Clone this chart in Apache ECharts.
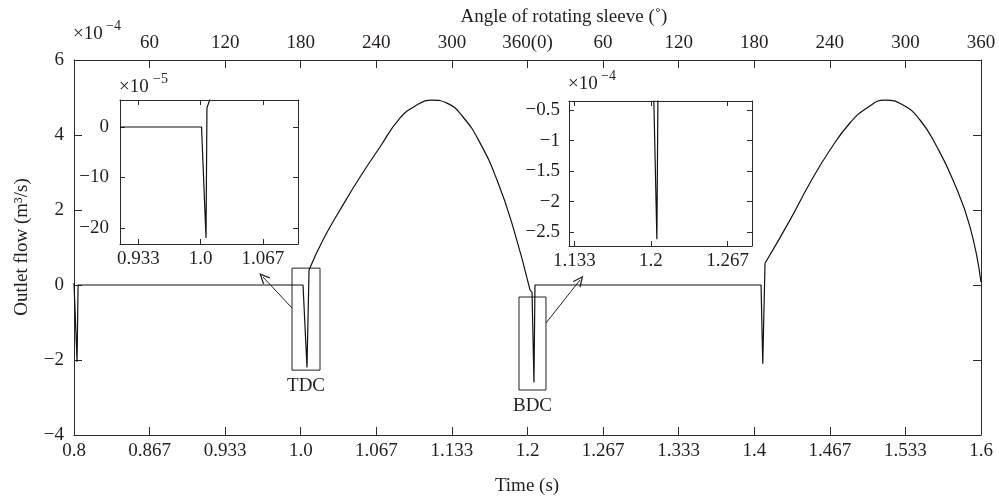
<!DOCTYPE html>
<html><head><meta charset="utf-8">
<script src="https://cdn.jsdelivr.net/npm/echarts@6/dist/echarts.min.js"></script>
<style>html,body{margin:0;padding:0;background:#fff}#c{width:999px;height:499px}</style>
</head><body><div id="c"></div>
<script>
// ---------- data ----------
const timeLabels = ['0.8','0.867','0.933','1.0','1.067','1.133','1.2','1.267','1.333','1.4','1.467','1.533','1.6'];
const angleLabels = ['','60','120','180','240','300','360(0)','60','120','180','240','300','360'];
const flowTicks = [-4,-2,0,2,4,6];

// main curve: spikes and flat parts (sharp)
const sharpTime = [0.8,0.8014,0.8027,0.8036,1.002,1.0055,1.0073,null,1.2022,1.204,1.2057,1.2066,1.406,1.4075,1.4095];
const sharpFlow = [0.05,0,-2.05,0,0,-2.2,0.4,null,-0.13,-0.2,-2.6,0,0,-2.1,0.58];
// main curve: smooth lobes
const lobeTime = [1.0073,1.0196,1.0346,1.0523,1.0699,1.0875,1.1025,1.1158,1.129,1.1431,1.1581,1.1731,1.1872,1.2022,null,
                  1.4095,1.4315,1.4491,1.4668,1.4844,1.4994,1.5153,1.5312,1.5462,1.5612,1.5753,1.5903,1.6];
const lobeFlow = [0.4,1.2,2.0,2.88,3.68,4.45,4.8,4.93,4.85,4.48,3.79,2.8,1.55,-0.13,null,
                  0.58,1.73,2.72,3.6,4.32,4.72,4.93,4.8,4.4,3.68,2.8,1.55,0.08];

// inset TDC (x10^-5)
const tdcTime = [0.9137,1.001,1.0058,1.0068,1.0098,1.0105];
const tdcFlow = [0,0,-22,3.8,5.35,6];
const tdcXTicks = [0.9333,1.0,1.0667];
const tdcXLabels = ['0.933','1.0','1.067'];
const tdcYTicks = [-20,-10,0];

// inset BDC (x10^-4)
const bdcTime = [1.2025,1.2052,1.2061];
const bdcFlow = [-0.3,-2.62,-0.3];
const bdcXTicks = [1.1333,1.2,1.2667];
const bdcXLabels = ['1.133','1.2','1.267'];
const bdcYTicks = [-2.5,-2,-1.5,-1,-0.5];

// annotation boxes (data coords) and arrows
const tdcBox = [0.9923,0.45,1.017,-2.27];
const bdcBox = [1.1925,-0.32,1.2163,-2.8];
const tdcArrow = [0.9923,-0.613,0.9667,0.213];
const bdcArrow = [1.2163,-1.013,1.2463,0.133];

// ---------- helpers ----------
const FONT = 'Liberation Serif';
const TXT = '#231f20';
const AX = '#2a2a2a';
const step = 0.8/12;
const mainX = timeLabels.map((_,i)=>0.8+i*step);
const minus = v => String(v).replace('-', '\u2212');
const pair = (xs, ys) => xs.map((x,i)=> x===null ? ['-','-'] : [x, ys[i]]);
const nearestLabel = (vals, labs) => v => { let b=0; vals.forEach((t,i)=>{ if(Math.abs(t-v)<Math.abs(vals[b]-v)) b=i; }); return labs[b]; };

function ax(o, tickVals, len, label){
  return Object.assign({type:'value', splitLine:{show:false},
    axisLine:{onZero:false,lineStyle:{color:AX,width:1}},
    axisTick:{inside:true,length:len,lineStyle:{color:AX},customValues:tickVals},
    axisLabel: label ? Object.assign({fontFamily:FONT,fontSize:19,color:TXT,customValues:tickVals}, label) : {show:false}
  }, o);
}

const option = {
  animation:false,
  backgroundColor:'#fff',
  grid:[
    {left:74,right:18,top:60,bottom:64},
    {left:120,top:100,width:178,height:144,show:true,backgroundColor:'#fff',borderWidth:0},
    {left:569,top:101,width:183,height:145,show:true,backgroundColor:'#fff',borderWidth:0}
  ],
  xAxis:[
    ax({gridIndex:0,position:'bottom',min:0.8,max:1.6}, mainX, 8, {margin:7,formatter:nearestLabel(mainX,timeLabels)}),
    ax({gridIndex:0,position:'top',min:0.8,max:1.6}, mainX, 8, {margin:7,formatter:nearestLabel(mainX,angleLabels)}),
    ax({gridIndex:1,position:'bottom',min:0.9137,max:1.1043}, tdcXTicks, 5, {margin:6,formatter:nearestLabel(tdcXTicks,tdcXLabels)}),
    ax({gridIndex:1,position:'top',min:0.9137,max:1.1043}, tdcXTicks, 5, null),
    ax({gridIndex:2,position:'bottom',min:1.1287,max:1.288}, bdcXTicks, 5, {margin:6,formatter:nearestLabel(bdcXTicks,bdcXLabels)}),
    ax({gridIndex:2,position:'top',min:1.1287,max:1.288}, bdcXTicks, 5, null)
  ],
  yAxis:[
    ax({gridIndex:0,position:'left',min:-4,max:6}, flowTicks, 8, {margin:10,formatter:minus}),
    ax({gridIndex:0,position:'right',min:-4,max:6}, flowTicks, 8, null),
    ax({gridIndex:1,position:'left',min:-23.2,max:5.35}, tdcYTicks, 5, {margin:11,formatter:minus}),
    ax({gridIndex:1,position:'right',min:-23.2,max:5.35}, tdcYTicks, 5, null),
    ax({gridIndex:2,position:'left',min:-2.73,max:-0.35}, bdcYTicks, 5, {margin:9,formatter:minus}),
    ax({gridIndex:2,position:'right',min:-2.73,max:-0.35}, bdcYTicks, 5, null)
  ],
  series:[
    {type:'line',xAxisIndex:0,yAxisIndex:0,data:pair(sharpTime,sharpFlow),showSymbol:false,
     lineStyle:{color:'#111',width:1.2},connectNulls:false,
     markArea:{silent:true,itemStyle:{color:'rgba(0,0,0,0)',borderColor:'#222',borderWidth:1},
       label:{position:'bottom',distance:6,fontFamily:FONT,fontSize:19,color:TXT},
       data:[
         [{name:'TDC',xAxis:tdcBox[0],yAxis:tdcBox[1]},{xAxis:tdcBox[2],yAxis:tdcBox[3]}],
         [{name:'BDC',xAxis:bdcBox[0],yAxis:bdcBox[1]},{xAxis:bdcBox[2],yAxis:bdcBox[3]}]
       ]},
     markLine:{silent:true,symbol:['none','path://M0,10 L5,0 L10,10 L8.6,10 L5,2.8 L1.4,10 Z'],symbolSize:[10,11],
       lineStyle:{type:'solid',color:'#222',width:1},label:{show:false},
       data:[
         [{coord:[tdcArrow[0],tdcArrow[1]]},{coord:[tdcArrow[2],tdcArrow[3]]}],
         [{coord:[bdcArrow[0],bdcArrow[1]]},{coord:[bdcArrow[2],bdcArrow[3]]}]
       ]}
    },
    {type:'line',xAxisIndex:0,yAxisIndex:0,data:pair(lobeTime,lobeFlow),showSymbol:false,
     smooth:0.5,lineStyle:{color:'#111',width:1.2},connectNulls:false},
    {type:'line',xAxisIndex:2,yAxisIndex:2,data:pair(tdcTime,tdcFlow),showSymbol:false,clip:true,
     lineStyle:{color:'#111',width:1.2}},
    {type:'line',xAxisIndex:4,yAxisIndex:4,data:pair(bdcTime,bdcFlow),showSymbol:false,clip:true,
     lineStyle:{color:'#111',width:1.2}}
  ],
  graphic:[
    {type:'text',left:73,top:25,style:{text:'\u00d710',font:'19px "Liberation Serif"',fill:TXT}},
    {type:'text',left:106,top:19,style:{text:'\u22124',font:'14px "Liberation Serif"',fill:TXT}},
    {type:'text',left:119,top:78,style:{text:'\u00d710',font:'19px "Liberation Serif"',fill:TXT}},
    {type:'text',left:153,top:72,style:{text:'\u22125',font:'14px "Liberation Serif"',fill:TXT}},
    {type:'text',left:568,top:75,style:{text:'\u00d710',font:'19px "Liberation Serif"',fill:TXT}},
    {type:'text',left:601,top:69,style:{text:'\u22124',font:'14px "Liberation Serif"',fill:TXT}},
    {type:'text',x:564,y:17,style:{text:'Angle of rotating sleeve (\u02da)',font:'19px "Liberation Serif"',fill:TXT,textAlign:'center',textVerticalAlign:'middle'}},
    {type:'text',x:527,y:486,style:{text:'Time (s)',font:'19px "Liberation Serif"',fill:TXT,textAlign:'center',textVerticalAlign:'middle'}},
    {type:'text',x:22,y:247,rotation:Math.PI/2,style:{text:'Outlet flow (m\u00b3/s)',font:'19px "Liberation Serif"',fill:TXT,textAlign:'center',textVerticalAlign:'middle'}}
  ]
};
const chart = echarts.init(document.getElementById('c'),null,{renderer:'canvas'});
chart.setOption(option);
</script></body></html>
